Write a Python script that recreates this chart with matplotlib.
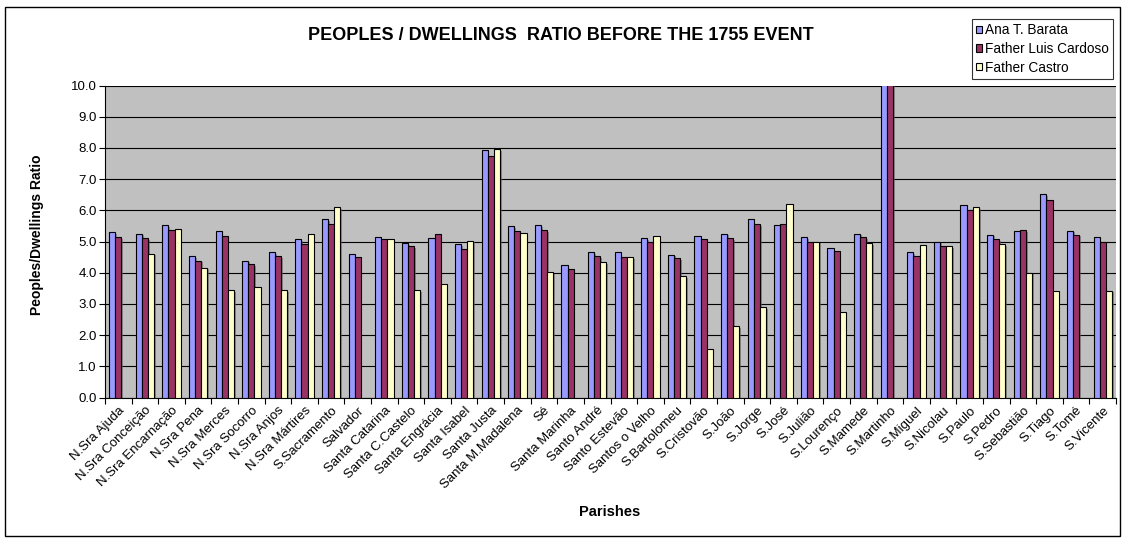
import matplotlib
matplotlib.use("Agg")
import matplotlib.pyplot as plt
import matplotlib.patheffects as pe
import numpy as np
from matplotlib.patches import Rectangle

plt.rcParams['font.family'] = ['Liberation Sans', 'DejaVu Sans']

parishes = ["N.Sra Ajuda", "N.Sra Conceição", "N.Sra Encarnação", "N.Sra Pena", "N.Sra Merces",
            "N.Sra Socorro", "N.Sra Anjos", "N.Sra Mártires", "S.Sacramento", "Salvador",
            "Santa Catarina", "Santa C.Castelo", "Santa Engrácia", "Santa Isabel", "Santa Justa",
            "Santa M.Madalena", "Sé", "Santa Marinha", "Santo André", "Santo Estevão",
            "Santos o Velho", "S.Bartolomeu", "S.Cristovão", "S.João", "S.Jorge", "S.José",
            "S.Julião", "S.Lourenço", "S.Mamede", "S.Martinho", "S.Miguel", "S.Nicolau",
            "S.Paulo", "S.Pedro", "S.Sebastião", "S.Tiago", "S.Tomé", "S.Vicente"]

ana_barata = [5.29, 5.25, 5.52, 4.53, 5.34, 4.39, 4.65, 5.07, 5.71, 4.61,
              5.14, 4.95, 5.11, 4.92, 7.93, 5.50, 5.52, 4.24, 4.65, 4.65,
              5.11, 4.58, 5.19, 5.25, 5.71, 5.52, 5.14, 4.80, 5.25, 10.5,
              4.65, 4.99, 6.17, 5.22, 5.34, 6.51, 5.35, 5.15]
luis_cardoso = [5.14, 5.10, 5.37, 4.39, 5.19, 4.28, 4.53, 4.92, 5.56, 4.49,
                5.07, 4.84, 5.23, 4.76, 7.73, 5.34, 5.37, 4.12, 4.53, 4.49,
                4.99, 4.46, 5.07, 5.11, 5.56, 5.56, 4.99, 4.68, 5.14, 10.5,
                4.53, 4.84, 6.02, 5.07, 5.36, 6.32, 5.22, 5.00]
father_castro = [np.nan, 4.61, 5.41, 4.16, 3.43, 3.54, 3.43, 5.25, 6.10, np.nan,
                 5.07, 3.43, 3.63, 5.03, 7.97, 5.26, 4.01, np.nan, 4.34, 4.49,
                 5.19, 3.88, 1.57, 2.29, 2.89, 6.21, 4.99, 2.75, 4.95, np.nan,
                 4.88, 4.84, 6.10, 4.91, 4.00, 3.42, np.nan, 3.42]

series = [("Ana T. Barata", ana_barata, "#9999FF"),
          ("Father Luis Cardoso", luis_cardoso, "#993366"),
          ("Father Castro", father_castro, "#FFFFCC")]

W, H = 1122, 539
fig = plt.figure(figsize=(W / 100, H / 100), dpi=100)
fig.patches.append(Rectangle((5 / W, 3 / H), 1 - 7 / W, 1 - 10 / H, transform=fig.transFigure,
                             fill=False, edgecolor='black', linewidth=1.0))
left, right, top, bottom = 105, 1116, 85.5, 397.5
ax = fig.add_axes([left / W, 1 - bottom / H, (right - left) / W, (bottom - top) / H])
ax.set_facecolor("#C0C0C0")

x = np.arange(len(parishes))
w = 0.23
shadow = [pe.SimplePatchShadow(offset=(1.2, -1.2), shadow_rgbFace='#606060', alpha=0.6), pe.Normal()]
for i, (name, vals, col) in enumerate(series):
    bars = ax.bar(x + (i - 1) * w, vals, width=w, color=col, edgecolor='black',
                  linewidth=0.8, label=name, zorder=3)
    for b in bars:
        b.set_path_effects(shadow)

ax.set_xlim(-0.5, len(parishes) - 0.5)
ax.set_ylim(0, 10)
yt = np.arange(0, 10.01, 1.0)
ax.set_yticks(yt)
ax.set_yticklabels([f"{v:.1f}" for v in yt], fontsize=9.5)
ax.yaxis.grid(True, color='black', linewidth=0.8, zorder=1)
ax.set_axisbelow(True)

ax.set_xticks(x)
ax.set_xticklabels(parishes, rotation=45, ha='right', rotation_mode='anchor', fontsize=9.5)
ax.tick_params(axis='x', length=0, pad=5)
ax.set_xticks(np.arange(-0.5, len(parishes), 1.0), minor=True)
ax.tick_params(axis='x', which='minor', length=4, width=0.8)
ax.tick_params(axis='y', length=4, width=0.8, pad=2)

for side in ['top', 'right']:
    ax.spines[side].set_visible(False)
ax.spines['left'].set_linewidth(0.8)
ax.spines['bottom'].set_linewidth(0.8)

fig.text(37 / W, 1 - 235 / H, "Peoples/Dwellings Ratio", rotation=90, ha='center', va='center',
         fontsize=10, fontweight='bold')
fig.text(610 / W, 1 - 512 / H, "Parishes", ha='center', va='center', fontsize=10.5, fontweight='bold')
fig.text(561 / W, 1 - 35 / H, "PEOPLES / DWELLINGS  RATIO BEFORE THE 1755 EVENT", ha='center',
         va='center', fontsize=13, fontweight='bold')

leg = fig.legend(loc='upper left', bbox_to_anchor=(972 / W, 1 - 19 / H), fontsize=9.8,
                 frameon=True, fancybox=False, edgecolor='black', handlelength=0.42,
                 handleheight=0.42, handletextpad=0.25, borderpad=0.3, labelspacing=0.35,
                 borderaxespad=0)
leg.get_frame().set_linewidth(0.8)
for h in leg.legend_handles:
    h.set_path_effects([])

fig.savefig("out.png", dpi=100)
